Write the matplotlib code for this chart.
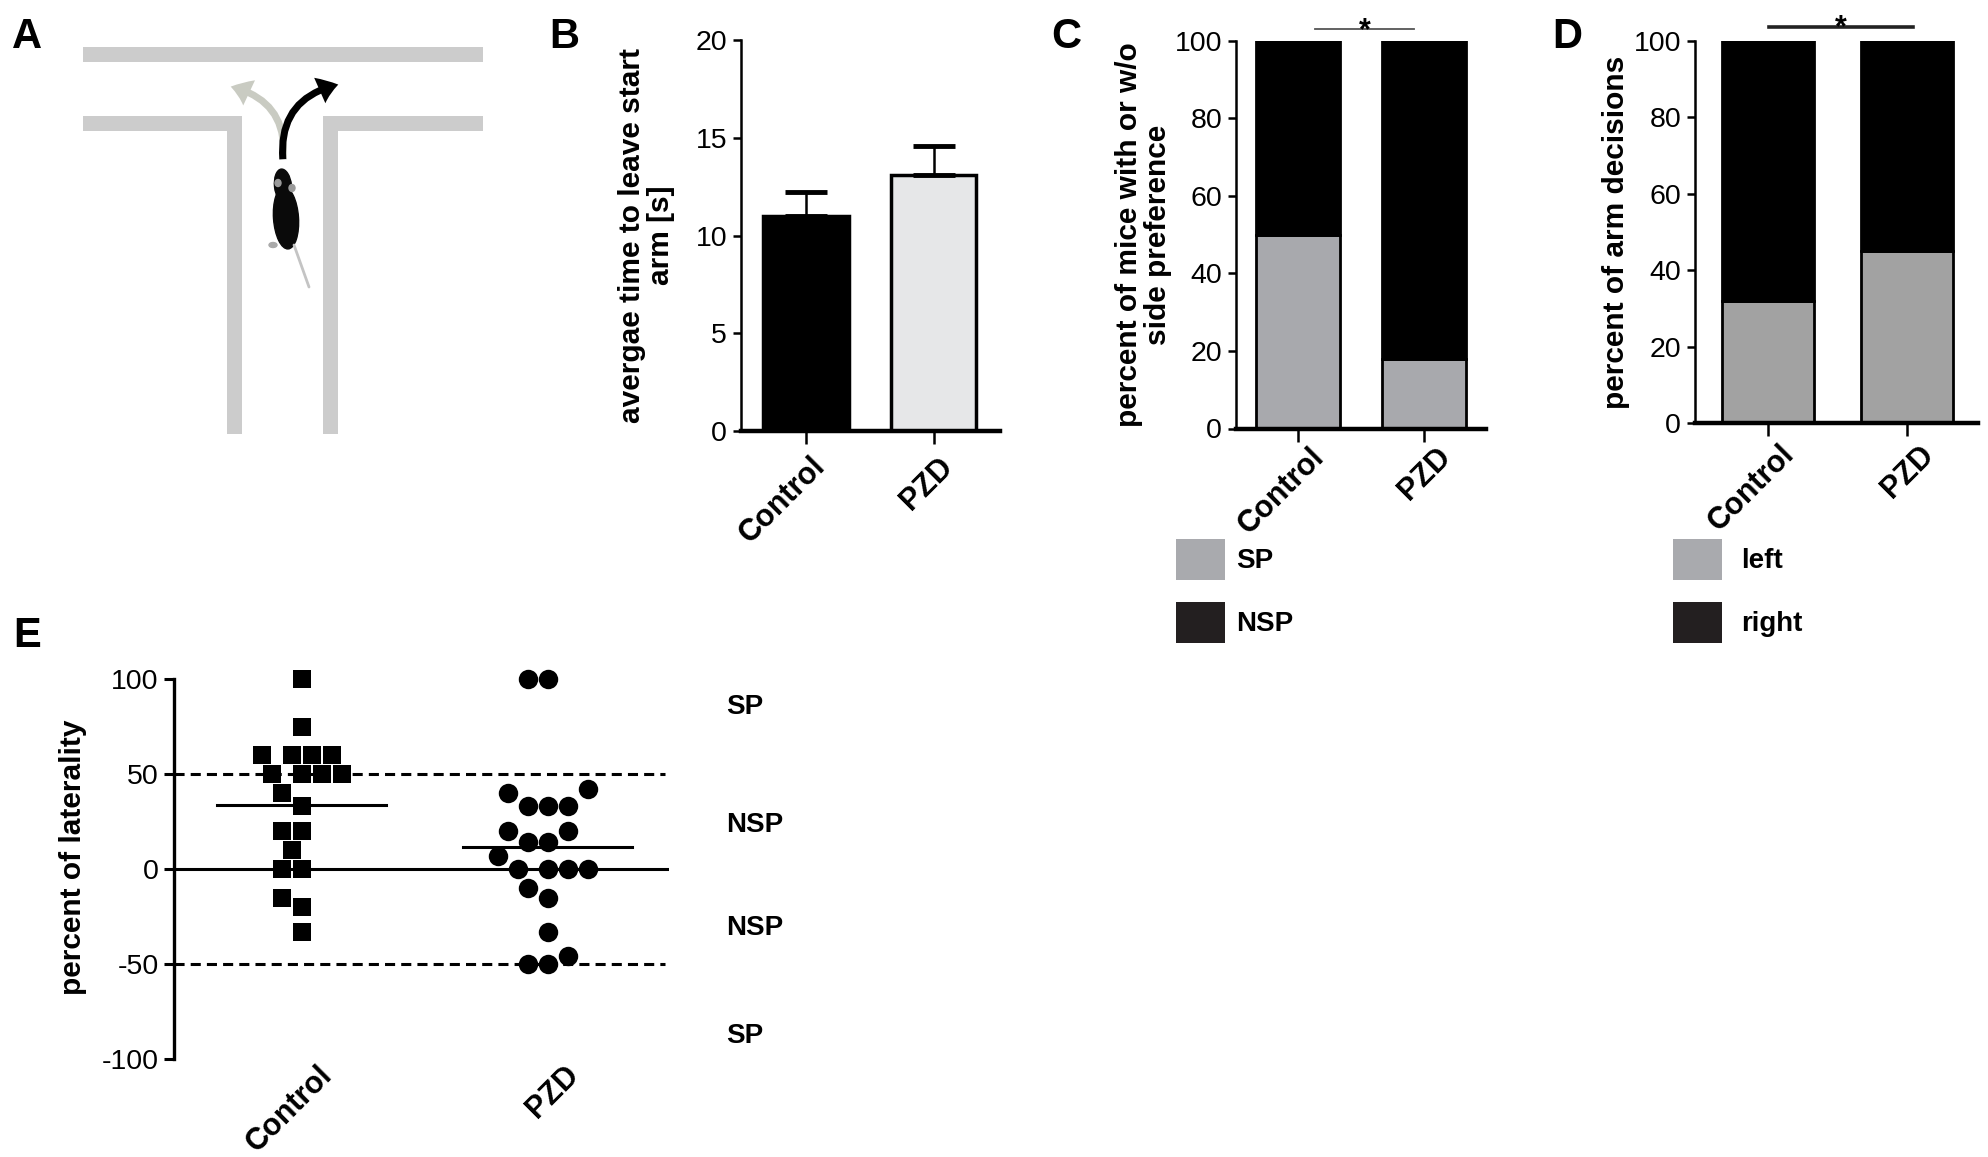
import numpy as np
import matplotlib
matplotlib.use("Agg")
import matplotlib.pyplot as plt
from matplotlib.patches import Rectangle, Ellipse, FancyArrowPatch
from matplotlib.transforms import ScaledTranslation

# ---------------- data ----------------
groups = ["Control", "PZD"]

time_mean = [11.0, 13.1]          # panel B, seconds
time_err = [1.2, 1.5]

pref_sp = [50, 18]                # panel C, percent of mice
pref_nsp = [50, 82]
pref_labels = ["SP", "NSP"]

arm_left = [32, 45]               # panel D, percent of decisions
arm_right = [68, 55]
arm_labels = ["left", "right"]

lat_control = [100, 75, 60, 60, 60, 60, 50, 50, 50, 50, 40, 33, 20, 20, 10,
               0, 0, -15, -20, -33]
lat_pzd = [100, 100, 42, 40, 33, 33, 33, 20, 20, 14, 14, 7, 0, 0, 0, 0,
           -10, -15, -33, -46, -50, -50]
lat_threshold = 50
zone_labels = ["SP", "NSP", "NSP", "SP"]

# ---------------- setup ----------------
W, H, DPI = 1988, 1157, 100
plt.rcParams["font.family"] = ["Liberation Sans", "DejaVu Sans"]
plt.rcParams["axes.unicode_minus"] = False
plt.rcParams["axes.linewidth"] = 1.8

fig = plt.figure(figsize=(W / DPI, H / DPI), dpi=DPI)

TICK_FS = 20.5
LAB_FS = 21.5
CAT_FS = 22


def px_axes(x0, y_top, x1, y_bot):
    return fig.add_axes([x0 / W, 1 - y_bot / H, (x1 - x0) / W, (y_bot - y_top) / H])


def set_cat_labels(ax, dx, dy):
    ax.set_xticks(range(len(groups)))
    ax.set_xticklabels(groups, rotation=45, ha="right", va="center",
                       rotation_mode="anchor", fontsize=CAT_FS, fontweight="bold")
    off = ScaledTranslation(dx / DPI, dy / DPI, fig.dpi_scale_trans)
    for lbl in ax.get_xticklabels():
        lbl.set_transform(lbl.get_transform() + off)


def style_bar_axes(ax, ylabel, label_x, dx, dy):
    for s in ("top", "right"):
        ax.spines[s].set_visible(False)
    ax.spines["left"].set_linewidth(1.8)
    ax.spines["bottom"].set_linewidth(3.2)
    ax.tick_params(axis="y", labelsize=TICK_FS, length=6, width=1.8, pad=4)
    ax.tick_params(axis="x", length=9, width=1.8, pad=4)
    set_cat_labels(ax, dx, dy)
    ax.set_ylabel(ylabel, fontsize=LAB_FS, fontweight="bold", linespacing=1.05)
    ax.yaxis.set_label_coords(label_x, 0.5)


# overlay axes in pixel coordinates for illustration, letters & legends
ov = fig.add_axes([0, 0, 1, 1], zorder=-1)
ov.set_xlim(0, W)
ov.set_ylim(H, 0)
ov.axis("off")

# ---------------- panel A: T-maze illustration ----------------
maze_c = "#cccccc"
ov.add_patch(Rectangle((83, 47), 400, 15, color=maze_c, lw=0))
ov.add_patch(Rectangle((83, 116), 159, 15, color=maze_c, lw=0))
ov.add_patch(Rectangle((324, 116), 159, 15, color=maze_c, lw=0))
ov.add_patch(Rectangle((227, 116), 15, 318, color=maze_c, lw=0))
ov.add_patch(Rectangle((323, 116), 15, 318, color=maze_c, lw=0))

# mouse
ov.plot([294, 309], [245, 287], color="#c4c4c4", lw=2, solid_capstyle="round")
ov.add_patch(Ellipse((286, 218), 25, 62, angle=-4, color="#0a0a0a"))
ov.add_patch(Ellipse((283, 186), 17, 34, angle=-6, color="#0a0a0a"))
ov.add_patch(Ellipse((278, 183), 6, 7, color="#9a9a9a"))
ov.add_patch(Ellipse((292, 188), 6, 7, color="#9a9a9a"))
ov.add_patch(Ellipse((273, 245), 8, 5, color="#aaaaaa"))

# arrows
ov.add_patch(FancyArrowPatch((283, 162), (228, 86), connectionstyle="arc3,rad=0.45",
                             arrowstyle="simple,head_width=20,head_length=14,tail_width=5",
                             color="#c9cbc2", lw=0, mutation_scale=1))
ov.add_patch(FancyArrowPatch((283, 162), (341, 84), connectionstyle="arc3,rad=-0.45",
                             arrowstyle="simple,head_width=20,head_length=14,tail_width=5",
                             color="#000000", lw=0, mutation_scale=1))

# panel letters
for letter, (lx, ly) in {"A": (27, 37), "B": (564, 37), "C": (1066, 37),
                         "D": (1567, 37), "E": (27, 636)}.items():
    ov.text(lx, ly, letter, fontsize=30, fontweight="bold", ha="center", va="center")

# ---------------- panel B ----------------
axB = px_axes(741, 40, 1000, 431)
xB = np.arange(len(groups))
axB.bar(xB, time_mean, width=0.67, color=["#000000", "#e6e7e8"],
        edgecolor="#000000", linewidth=2.5, zorder=2)
axB.errorbar(xB, time_mean, yerr=[np.zeros(len(groups)), time_err], fmt="none",
             ecolor="#000000", elinewidth=1.8, capsize=15, capthick=3.5, zorder=3)
axB.set_ylim(0, 20)
axB.set_yticks([0, 5, 10, 15, 20])
axB.set_xlim(-0.51, 1.52)
style_bar_axes(axB, "avergae time to leave start\narm [s]", -0.255, 15, -13)

# ---------------- panel C ----------------
axC = px_axes(1236, 41, 1486, 428.5)
xC = np.arange(len(groups))
axC.bar(xC, pref_sp, width=0.667, color="#a8a9ad", edgecolor="#000000",
        linewidth=2, zorder=2, label=pref_labels[0])
axC.bar(xC, pref_nsp, bottom=pref_sp, width=0.667, color="#000000",
        edgecolor="#000000", linewidth=2, zorder=2, label=pref_labels[1])
axC.set_ylim(0, 100)
axC.set_yticks([0, 20, 40, 60, 80, 100])
axC.set_xlim(-0.49, 1.49)
style_bar_axes(axC, "percent of mice with or w/o\nside preference", -0.256, 22, -6)
axC.plot([0.135, 0.92], [103, 103], color="#555555", lw=1.3, clip_on=False)
axC.text(0.53, 100.4, "*", ha="center", va="baseline", fontsize=22, fontweight="bold")

# ---------------- panel D ----------------
axD = px_axes(1695, 41, 1978, 423)
xD = np.arange(len(groups))
axD.bar(xD, arm_left, width=0.66, color="#a2a2a2", edgecolor="#000000",
        linewidth=2, zorder=2, label=arm_labels[0])
axD.bar(xD, arm_right, bottom=arm_left, width=0.66, color="#000000",
        edgecolor="#000000", linewidth=2, zorder=2, label=arm_labels[1])
axD.set_ylim(0, 100)
axD.set_yticks([0, 20, 40, 60, 80, 100])
axD.set_xlim(-0.525, 1.51)
style_bar_axes(axD, "percent of arm decisions", -0.23, 22, -9)
axD.plot([0.005, 1.04], [103.6, 103.6], color="#222222", lw=2.6, clip_on=False)
axD.text(0.52, 101.2, "*", ha="center", va="baseline", fontsize=22, fontweight="bold")

# legends for C and D (drawn in pixel overlay)
legend_specs = [
    (1176, 1236, pref_labels, ["#a9aaae", "#231f20"]),
    (1673, 1741, arm_labels, ["#a9aaae", "#231f20"]),
]
for px0, tx, labels, cols in legend_specs:
    for k, (lab, col) in enumerate(zip(labels, cols)):
        ytop = 539 + k * 63
        ov.add_patch(Rectangle((px0, ytop), 49, 41, color=col, lw=0))
        ov.text(tx, ytop + 22, lab, fontsize=20, fontweight="bold",
                ha="left", va="center")

# ---------------- panel E ----------------
axE = px_axes(174, 679, 669, 1059)
axE.set_ylim(-100, 100)
axE.set_xlim(-0.52, 1.49)

px_per_x = (669 - 174) / (1.49 + 0.52)
px_per_y = (1059 - 679) / 200.0


def swarm(values, diam):
    """greedy beeswarm offsets (in data-x units) on a half-diameter grid,
    placed from the lowest value upwards"""
    order = sorted(range(len(values)), key=lambda i: values[i])
    placed = []
    offs = [0.0] * len(values)
    step = diam / 2.0
    cands = [0.0]
    for j in range(1, 24):
        cands += [-j * step, j * step]
    for i in order:
        y = values[i] * px_per_y
        for c in cands:
            ok = all((c - px) ** 2 + (y - py) ** 2 >= diam ** 2 - 1e-6
                     for px, py in placed)
            if ok:
                placed.append((c, y))
                offs[i] = c / px_per_x
                break
    return np.array(offs)


for gi, (vals, mk, ms) in enumerate([(lat_control, "s", 13.5), (lat_pzd, "o", 14)]):
    offs = swarm(vals, 20)
    axE.plot(gi + offs, vals, linestyle="none", marker=mk, markersize=ms,
             color="#000000", markeredgewidth=0, clip_on=False, zorder=3)
    m = np.mean(vals)
    axE.plot([gi - 0.345, gi + 0.34], [m, m], color="#000000", lw=2.2, zorder=4)

axE.axhline(0, color="#000000", lw=2.2, zorder=2)
axE.plot([-0.52, 1.475], [lat_threshold, lat_threshold], color="#000000", lw=2.2,
         linestyle=(0, (3.3, 2.0)), zorder=2)
axE.plot([-0.52, 1.475], [-lat_threshold, -lat_threshold], color="#000000", lw=2.2,
         linestyle=(0, (3.3, 2.0)), zorder=2)

for s in ("top", "right", "bottom"):
    axE.spines[s].set_visible(False)
axE.spines["left"].set_linewidth(2.4)
axE.set_yticks([-100, -50, 0, 50, 100])
axE.tick_params(axis="y", labelsize=TICK_FS, length=7, width=2.2, pad=4)
axE.tick_params(axis="x", length=0, pad=14)
set_cat_labels(axE, 26, 8)
axE.set_ylabel("percent of laterality", fontsize=LAB_FS, fontweight="bold")
axE.yaxis.set_label_coords(-0.176, 0.53)

zone_y = [85, 23, -31, -88]
for lab, zy in zip(zone_labels, zone_y):
    axE.text(1.115, zy, lab, transform=axE.get_yaxis_transform(), fontsize=20,
             fontweight="bold", ha="left", va="center")

fig.savefig("out.png", dpi=DPI)
